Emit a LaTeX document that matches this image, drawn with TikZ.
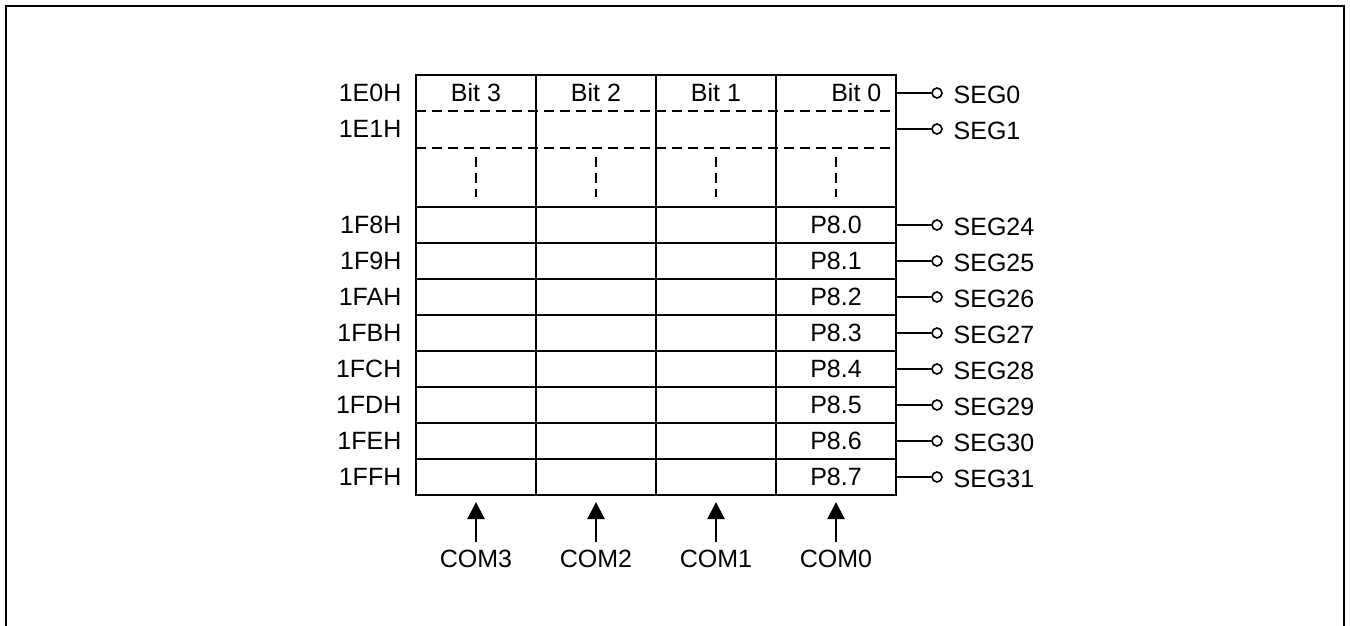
\documentclass[tikz,border=0pt]{standalone}
\usepackage{fontspec}
\setmainfont{Liberation Sans}
\usetikzlibrary{arrows.meta}
\tikzset{
  pin/.style={circle, draw, fill=white, minimum size=5pt, inner sep=0pt, line width=0.8pt},
  seglabel/.style={anchor=west},
  addr/.style={anchor=east},
  comarrow/.style={-{Triangle[length=8.5pt,width=8.5pt]}},
  rowdash/.style={dash pattern=on 5pt off 3pt}
}
\begin{document}
\begin{tikzpicture}[x=0.5pt, y=-0.5pt, line width=1pt, font=\fontsize{12.5}{14}\selectfont]
  \useasboundingbox (0,0) rectangle (1350,626);
  % outer frame, open at the bottom
  \draw[line width=1.4pt] (6,626) -- (6,6) -- (1344,6) -- (1344,626);

  % register grid
  \draw (416,75) rectangle (896,495);
  \foreach \x in {536,656,776} \draw (\x,75) -- (\x,495);
  \draw[rowdash] (416,111) -- (896,111) (416,148) -- (896,148);
  \foreach \y in {207,243,...,459} \draw (416,\y) -- (896,\y);
  \foreach \x in {476,596,716,836} \draw[rowdash] (\x,157) -- (\x,197);

  % header row
  \node (bit3) at (476,93) {Bit 3};
  \node (bit2) at (596,93) {Bit 2};
  \node (bit1) at (716,93) {Bit 1};
  \node[anchor=east] (bit0) at (889,93) {Bit 0};

  % addresses and segment pins
  \node[addr] (a0) at (409,93) {1E0H};
  \node[addr] (a1) at (409,129) {1E1H};
  \coordinate (e0) at (896,93);
  \coordinate (e1) at (896,129);
  \node[pin] (p0) at (937,93) {};
  \node[pin] (p1) at (937,129) {};
  \node[seglabel] (seg0) at (946,95) {SEG0};
  \node[seglabel] (seg1) at (946,131) {SEG1};
  \draw (e0) -- (p0);
  \draw (e1) -- (p1);

  \foreach \lbl [count=\i from 0] in {1F8H,1F9H,1FAH,1FBH,1FCH,1FDH,1FEH,1FFH} {
    \pgfmathsetmacro{\yy}{225+36*\i}
    \node[addr] (r\i) at (409,\yy) {\lbl};
    \node (q\i) at (836,\yy) {P8.\i};
    \coordinate (f\i) at (896,\yy);
    \node[pin] (s\i) at (937,\yy) {};
    \pgfmathtruncatemacro{\sn}{24+\i}
    \node[seglabel] (seg\sn) at (946,\yy+2) {SEG\sn};
    \draw (f\i) -- (s\i);
  }

  % common lines
  \foreach \c/\x in {3/476,2/596,1/716,0/836} {
    \node (com\c) at (\x,559) {COM\c};
    \coordinate (t\c) at (\x,502);
    \draw[comarrow] (com\c.north) -- (t\c);
  }
\end{tikzpicture}
\end{document}
